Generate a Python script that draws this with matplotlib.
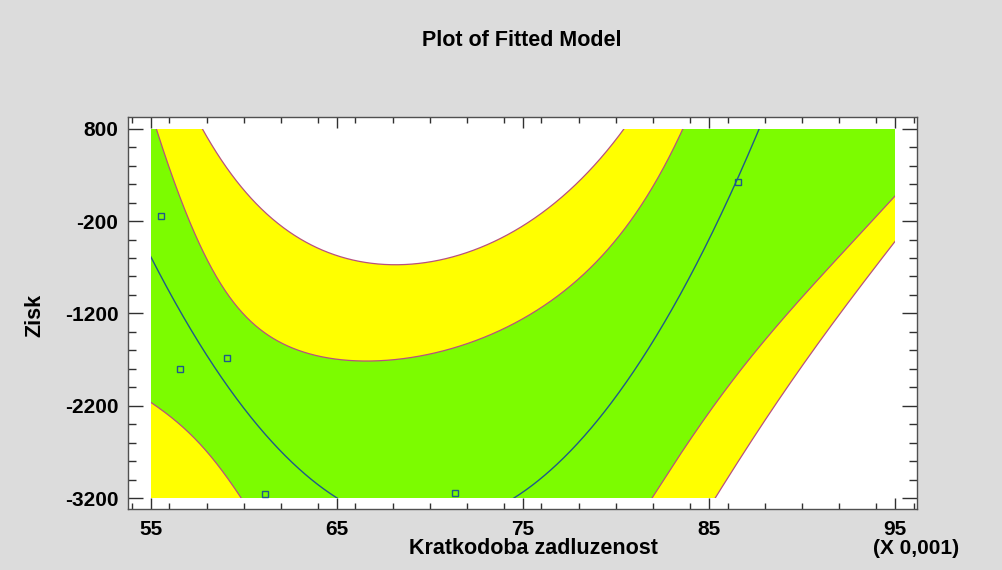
import numpy as np
import matplotlib
matplotlib.use("Agg")
import matplotlib.pyplot as plt
from matplotlib.patches import Rectangle
from matplotlib.ticker import MultipleLocator, FixedLocator

plt.rcParams["font.family"] = ["Liberation Sans", "DejaVu Sans"]
plt.rcParams["font.weight"] = "bold"

# Observed data (x in units of 0.001)
obs_x = [55.55, 56.6, 59.1, 61.15, 71.35, 86.55]
obs_y = [-140, -1805, -1685, -3157, -3146, 226]

# Fitted model line, sampled
fit_x = [55.0, 56.5, 58.5, 60.1, 61.9, 63.5, 64.9, 74.5, 79.1, 80.9, 82.6, 83.0, 84.3, 85.6, 86.55, 87.6]
fit_y = [-585, -1160, -1810, -2210, -2680, -2970, -3200, -3190, -2320, -1885, -1270, -1162, -656, -186, 226, 800]

# Confidence limits for the mean, sampled
upper_conf_x = [55.3, 56.8, 58.0, 59.8, 60.3, 62.3, 64.6, 66.8, 69.1, 71.4, 72.7, 79.1, 80.9, 82.7, 83.6]
upper_conf_y = [800, -78, -620, -1162, -1270, -1523, -1686, -1740, -1704, -1541, -1433, -620, -259, 356, 800]
lower_conf_x = [55.0, 56.6, 58.0, 59.1, 59.7, 81.9, 84.5, 86.9, 89.1, 89.5, 91.7, 93.5, 95.0]
lower_conf_y = [-2173, -2390, -2680, -2969, -3203, -3203, -2463, -1885, -1270, -1162, -547, -222, 30]

# Prediction limits, sampled
upper_pred_x = [57.8, 59.25, 61.0, 62.8, 64.6, 66.4, 68.2, 70.0, 73.8, 77.0, 79.1, 80.6]
upper_pred_y = [800, 391, -42, -331, -547, -656, -692, -674, -450, -20, 430, 800]
lower_pred_x = [85.2, 87.7, 89.9, 91.8, 92.2, 93.5, 95.0]
lower_pred_y = [-3203, -2571, -1885, -1270, -1162, -764, -421]

x_ticks = [55, 65, 75, 85, 95]
y_ticks = [800, -200, -1200, -2200, -3200]

X_MIN, X_MAX = 55, 95
Y_MIN, Y_MAX = -3200, 800

# ---- model curves -------------------------------------------------------
def arr(v):
    return np.asarray(v, dtype=float)

x0 = 75.0
fit_coef = np.polyfit(arr(fit_x) - x0, arr(fit_y), 2)

def model(x):
    return np.polyval(fit_coef, np.asarray(x) - x0)

cx = np.concatenate([arr(upper_conf_x), arr(lower_conf_x)])
cw2 = np.concatenate([(arr(upper_conf_y) - model(upper_conf_x)) ** 2,
                      (model(lower_conf_x) - arr(lower_conf_y)) ** 2])
var_coef = np.polyfit(cx - x0, cw2, 4)

def conf_var(x):
    return np.clip(np.polyval(var_coef, np.asarray(x) - x0), 0, None)

# prediction variance = mean variance + residual term (slowly varying)
px = np.concatenate([arr(upper_pred_x), arr(lower_pred_x)])
pw2 = np.concatenate([(arr(upper_pred_y) - model(upper_pred_x)) ** 2,
                      (model(lower_pred_x) - arr(lower_pred_y)) ** 2])
resid_coef = np.polyfit(px - x0, pw2 - conf_var(px), 1)

def pred_var(x):
    return conf_var(x) + np.clip(np.polyval(resid_coef, np.asarray(x) - x0), 0, None)

xs = np.linspace(X_MIN, X_MAX, 1201)
ys = model(xs)
wc = np.sqrt(conf_var(xs))
wp = np.sqrt(pred_var(xs))

# ---- figure -------------------------------------------------------------
fig = plt.figure(figsize=(10.03, 5.70), dpi=100, facecolor="#DCDCDC")
ax = fig.add_axes([128 / 1003, 61 / 570, 789 / 1003, 392 / 570])
ax.set_facecolor("white")
ax.set_xlim(53.78, 96.18)
ax.set_ylim(-3316, 926)

clip = Rectangle((X_MIN, Y_MIN), X_MAX - X_MIN, Y_MAX - Y_MIN,
                 transform=ax.transData, facecolor="none", edgecolor="none")
ax.add_patch(clip)

band_line = "#B8507F"
artists = []
artists.append(ax.fill_between(xs, ys - wp, ys + wp, color="#FFFF00", lw=0))
artists.append(ax.fill_between(xs, ys - wc, ys + wc, color="#7CFC00", lw=0))
for curve in (ys + wp, ys - wp, ys + wc, ys - wc):
    artists += ax.plot(xs, curve, color=band_line, lw=0.9)
artists += ax.plot(xs, ys, color="#1F5A8A", lw=1.0)
for a in artists:
    a.set_clip_path(clip)

ax.plot(obs_x, obs_y, ls="none", marker="s", ms=4.2, mfc="none",
        mec="#1F5A8A", mew=1.0)

ax.xaxis.set_major_locator(FixedLocator(x_ticks))
ax.yaxis.set_major_locator(FixedLocator(y_ticks))
ax.xaxis.set_minor_locator(MultipleLocator(2))
ax.yaxis.set_minor_locator(MultipleLocator(200))
ax.set_xticklabels([str(t) for t in x_ticks])
ax.set_yticklabels([str(t) for t in y_ticks])
ax.tick_params(which="both", direction="in", top=True, right=True,
               color="#303030", width=1.0, labelsize=15)
ax.tick_params(axis="x", which="major", length=8, pad=8)
ax.tick_params(axis="x", which="minor", length=4.5)
ax.tick_params(axis="y", which="major", length=11, pad=7)
ax.tick_params(axis="y", which="minor", length=5.5)
for s in ax.spines.values():
    s.set_color("#505050")
    s.set_linewidth(1.0)

fig.text(521.5 / 1003, 1 - 41 / 570, "Plot of Fitted Model", ha="center",
         va="center", fontsize=15.5, fontweight="bold")
fig.text(533 / 1003, 1 - 549 / 570, "Kratkodoba zadluzenost", ha="center",
         va="center", fontsize=15.5, fontweight="bold")
fig.text(35 / 1003, 1 - 315 / 570, "Zisk", ha="center", va="center",
         rotation=90, fontsize=15.5, fontweight="bold")
fig.text(916 / 1003, 1 - 548 / 570, "(X 0,001)", ha="center", va="center",
         fontsize=15, fontweight="bold")

fig.savefig("out.png", dpi=100, facecolor=fig.get_facecolor())
